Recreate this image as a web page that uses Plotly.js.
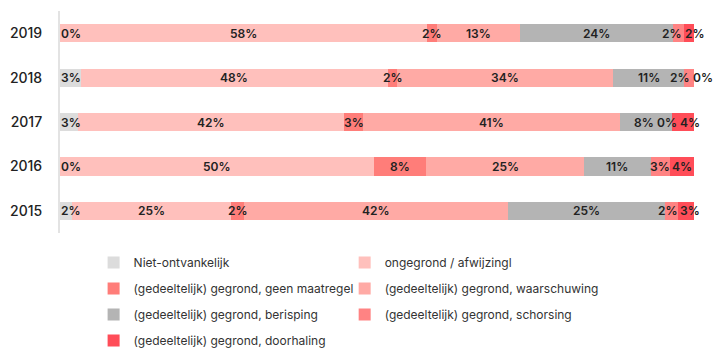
<!DOCTYPE html>
<html>
<head>
<meta charset="utf-8">
<script src="https://cdn.plot.ly/plotly-3.0.1.min.js"></script>
<style>html,body{margin:0;padding:0;background:#fff;}#chart{width:726px;height:352px;}</style>
</head>
<body>
<div id="chart"></div>
<script>
const years = ['2019', '2018', '2017', '2016', '2015'];
const seriesNames = [
  'Niet-ontvankelijk',
  'ongegrond / afwijzingl',
  '(gedeeltelijk) gegrond, geen maatregel',
  '(gedeeltelijk) gegrond, waarschuwing',
  '(gedeeltelijk) gegrond, berisping',
  '(gedeeltelijk) gegrond, schorsing',
  '(gedeeltelijk) gegrond, doorhaling'
];
// percentages per year (order: 2019, 2018, 2017, 2016, 2015)
const nietOntvankelijk = [0.0, 3.3, 2.8, 0.0, 1.9];
const ongegrond        = [57.9, 48.4, 42.0, 49.6, 25.0];
const geenMaatregel    = [1.6, 1.5, 3.0, 8.2, 2.2];
const waarschuwing     = [13.1, 34.1, 40.6, 24.8, 41.6];
const berisping        = [24.1, 11.2, 8.1, 10.6, 24.8];
const schorsing        = [1.7, 1.5, 0.0, 3.0, 2.0];
const doorhaling       = [1.6, 0.0, 3.5, 3.8, 2.5];
const colors = ['#dcdcdc', '#ffc0bc', '#ff7d79', '#ffaaa5', '#b4b4b4', '#ff8383', '#ff4d58'];

const series = [nietOntvankelijk, ongegrond, geenMaatregel, waarschuwing, berisping, schorsing, doorhaling];
const FONT = 'Inter, "Liberation Sans", Arial, sans-serif';
const catOrder = years.slice().reverse();
const X_MAX = 100;

const traces = [];
series.forEach((vals, i) => {
  traces.push({
    type: 'bar', orientation: 'h',
    x: vals, y: years,
    name: seriesNames[i],
    marker: {color: colors[i], line: {width: 0}},
    hoverinfo: 'skip',
    legend: (i % 2 === 0) ? 'legend' : 'legend2',
    legendgroup: 'g' + i
  });
});

// value labels, centred on their segment and spread apart where they would collide
const PX_PER_PCT = 634 / X_MAX;
const annotations = [];
years.forEach((yr, j) => {
  let cum = 0;
  const c = [], w = [], t = [];
  series.forEach((vals) => {
    const v = vals[j];
    const s = Math.round(v) + '%';
    c.push(cum + v / 2);
    w.push(((s.length - 1) * 7.6 + 11) / PX_PER_PCT);
    t.push(s);
    cum += v;
  });
  const gap = 4 / PX_PER_PCT;
  for (let it = 0; it < 80; it++) {
    for (let k = 0; k < c.length - 1; k++) {
      const need = (w[k] + w[k + 1]) / 2 + gap;
      const ov = need - (c[k + 1] - c[k]);
      if (ov > 0) { c[k] -= ov / 2; c[k + 1] += ov / 2; }
    }
    const minC = w[0] / 2 + 2 / PX_PER_PCT;
    if (c[0] < minC) c[0] = minC;
  }
  const yIdx = catOrder.indexOf(yr);
  c.forEach((x, k) => {
    annotations.push({
      // x axis spans the full plot width with range [0, X_MAX], so paper = value / X_MAX
      x: x / X_MAX, y: yIdx, xref: 'paper', yref: 'y', text: t[k], showarrow: false,
      xanchor: 'center', yanchor: 'middle',
      font: {family: FONT, size: 12, color: '#222', weight: 600}
    });
  });
});

const legendCommon = {
  orientation: 'v', xanchor: 'left', yanchor: 'top', y: -0.068,
  font: {family: FONT, size: 12, color: '#333'},
  tracegroupgap: 7, bgcolor: 'rgba(0,0,0,0)', traceorder: 'grouped', itemwidth: 30
};

const layout = {
  width: 726, height: 352,
  margin: {l: 60, r: 32, t: 11, b: 119, autoexpand: false},
  paper_bgcolor: '#fff', plot_bgcolor: '#fff',
  barmode: 'stack', bargap: 0.59,
  font: {family: FONT, color: '#333'},
  xaxis: {range: [0, X_MAX], autorange: false, showgrid: false, zeroline: false, showticklabels: false, showline: false, fixedrange: true},
  yaxis: {type: 'category', categoryorder: 'array', categoryarray: catOrder,
          range: [-0.5, 4.5], autorange: false,
          showline: true, linecolor: '#e3e3e3', linewidth: 2, showgrid: false, zeroline: false,
          ticks: '', ticklabelstandoff: 13, tickfont: {family: FONT, size: 14, color: '#222', weight: 500}, fixedrange: true},
  showlegend: true,
  annotations: annotations,
  legend: Object.assign({}, legendCommon, {x: 0.053}),
  legend2: Object.assign({}, legendCommon, {x: 0.449})
};

Plotly.newPlot('chart', traces, layout, {displayModeBar: false, staticPlot: true});
</script>
</body>
</html>
